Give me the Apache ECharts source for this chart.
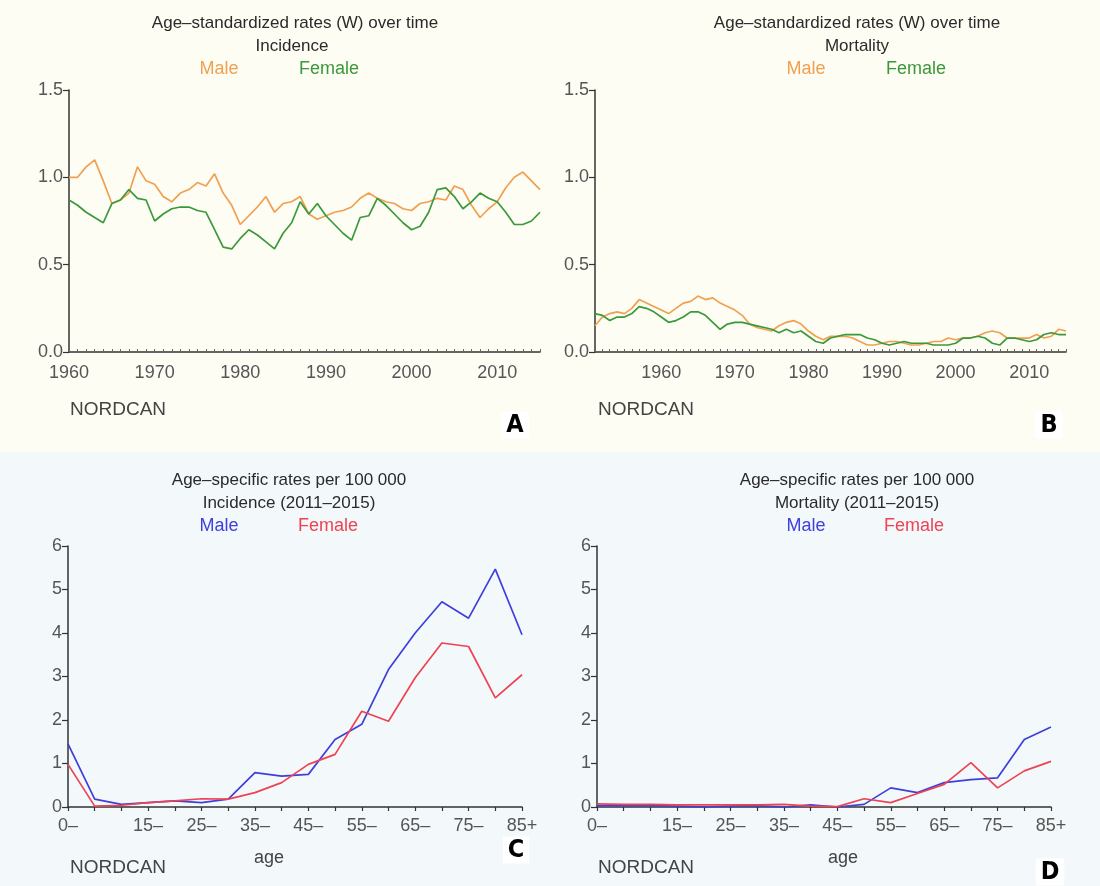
<!DOCTYPE html>
<html>
<head>
<meta charset="utf-8">
<script src="https://cdn.jsdelivr.net/npm/echarts@6/dist/echarts.min.js"></script>
<style>
  html, body { margin: 0; padding: 0; background: #fff; }
  #main { width: 1100px; height: 886px; }
</style>
</head>
<body>
<div id="main"></div>
<script>
// ---- Data ----
// Calendar years for the age-standardized trend panels
const yearsIncidence = [];
for (let y = 1960; y <= 2015; y++) yearsIncidence.push(String(y));
const yearsMortality = [];
for (let y = 1951; y <= 2015; y++) yearsMortality.push(String(y));

// Age-standardized incidence (W), 1960-2015
const incMaleASR = [
  1.00, 1.00, 1.06, 1.10, 0.98, 0.85, 0.87, 0.91, 1.06, 0.98,
  0.96, 0.89, 0.86, 0.91, 0.93, 0.97, 0.95, 1.02, 0.91, 0.84,
  0.73, 0.78, 0.83, 0.89, 0.80, 0.85, 0.86, 0.89, 0.79, 0.76,
  0.78, 0.80, 0.81, 0.83, 0.88, 0.91, 0.88, 0.86, 0.85, 0.82,
  0.81, 0.85, 0.86, 0.88, 0.87, 0.95, 0.93, 0.84, 0.77, 0.82,
  0.86, 0.94, 1.00, 1.03, 0.98, 0.93
];
const incFemaleASR = [
  0.87, 0.84, 0.80, 0.77, 0.74, 0.85, 0.87, 0.93, 0.88, 0.87,
  0.75, 0.79, 0.82, 0.83, 0.83, 0.81, 0.80, 0.70, 0.60, 0.59,
  0.65, 0.70, 0.67, 0.63, 0.59, 0.68, 0.74, 0.86, 0.79, 0.85,
  0.78, 0.73, 0.68, 0.64, 0.77, 0.78, 0.88, 0.84, 0.79, 0.74,
  0.70, 0.72, 0.80, 0.93, 0.94, 0.89, 0.82, 0.86, 0.91, 0.88,
  0.86, 0.80, 0.73, 0.73, 0.75, 0.80
];

// Age-standardized mortality (W), 1951-2015
const morMaleASR = [
  0.15, 0.20, 0.22, 0.23, 0.22, 0.25, 0.30, 0.28, 0.26,
  0.24, 0.22, 0.25, 0.28, 0.29, 0.32, 0.30, 0.31, 0.28, 0.26,
  0.24, 0.21, 0.16, 0.14, 0.13, 0.12, 0.15, 0.17, 0.18, 0.16,
  0.12, 0.09, 0.07, 0.09, 0.09, 0.09, 0.08, 0.06, 0.04, 0.04,
  0.05, 0.06, 0.06, 0.05, 0.04, 0.04, 0.05, 0.06, 0.06, 0.08,
  0.07, 0.08, 0.08, 0.09, 0.11, 0.12, 0.11, 0.08, 0.08, 0.08,
  0.08, 0.10, 0.08, 0.09, 0.13, 0.12
];
const morFemaleASR = [
  0.22, 0.21, 0.18, 0.20, 0.20, 0.22, 0.26, 0.25, 0.23,
  0.20, 0.17, 0.18, 0.20, 0.23, 0.23, 0.21, 0.17, 0.13, 0.16,
  0.17, 0.17, 0.16, 0.15, 0.14, 0.13, 0.11, 0.13, 0.11, 0.12,
  0.09, 0.06, 0.05, 0.08, 0.09, 0.10, 0.10, 0.10, 0.08, 0.07,
  0.05, 0.04, 0.05, 0.06, 0.05, 0.05, 0.05, 0.04, 0.04, 0.04,
  0.05, 0.08, 0.08, 0.09, 0.08, 0.05, 0.04, 0.08, 0.08, 0.07,
  0.06, 0.07, 0.10, 0.11, 0.10, 0.10
];

// Five-year age groups
const ageGroups = ['0–', '5–', '10–', '15–', '20–', '25–', '30–', '35–', '40–',
  '45–', '50–', '55–', '60–', '65–', '70–', '75–', '80–', '85+'];

// Age-specific rates per 100 000, 2011-2015
const incMaleAge = [1.45, 0.18, 0.06, 0.10, 0.14, 0.10, 0.18, 0.79, 0.71, 0.75,
  1.55, 1.90, 3.16, 4.00, 4.72, 4.34, 5.47, 3.96];
const incFemaleAge = [0.98, 0.02, 0.04, 0.10, 0.14, 0.19, 0.18, 0.33, 0.56, 0.98,
  1.21, 2.20, 1.97, 2.97, 3.77, 3.69, 2.51, 3.04];
const morMaleAge = [0.03, 0.03, 0.03, 0.02, 0.00, 0.02, 0.03, 0.00, 0.05, 0.00,
  0.06, 0.44, 0.33, 0.56, 0.63, 0.67, 1.55, 1.84];
const morFemaleAge = [0.07, 0.06, 0.06, 0.05, 0.05, 0.05, 0.05, 0.06, 0.02, 0.01,
  0.19, 0.10, 0.31, 0.52, 1.02, 0.44, 0.83, 1.05];

// ---- Styling ----
const FONT = '"Liberation Sans", Arial, Helvetica, sans-serif';
const C_ORANGE = '#f0a050';
const C_GREEN = '#3b983b';
const C_BLUE = '#3f3fdc';
const C_RED = '#ee4352';
const AXIS_COLOR = '#333';
const LABEL_COLOR = '#555';

function lineSeries(name, data, color, idx) {
  return {
    name, type: 'line', data, xAxisIndex: idx, yAxisIndex: idx,
    showSymbol: false, symbol: 'none', smooth: false,
    lineStyle: { color, width: 1.7 },
    emphasis: { disabled: true }
  };
}

function yearAxis(data, idx) {
  return {
    type: 'category', gridIndex: idx, data, boundaryGap: false,
    axisLine: { lineStyle: { color: AXIS_COLOR, width: 1.5 } },
    axisTick: { interval: 0, inside: true, length: 3, lineStyle: { color: '#666', width: 1 } },
    axisLabel: {
      interval: (i, v) => Number(v) % 10 === 0,
      color: LABEL_COLOR, fontSize: 18, fontFamily: FONT, margin: 12
    },
    splitLine: { show: false }
  };
}

function ageAxis(idx) {
  return {
    type: 'category', gridIndex: idx, data: ageGroups, boundaryGap: false,
    axisLine: { lineStyle: { color: AXIS_COLOR, width: 1.5 } },
    axisTick: { interval: 0, length: 4, lineStyle: { color: AXIS_COLOR, width: 1.2 } },
    axisLabel: {
      interval: (i) => i === 0 || (i >= 3 && i % 2 === 1),
      color: LABEL_COLOR, fontSize: 18, fontFamily: FONT, margin: 10
    },
    splitLine: { show: false }
  };
}

function rateAxis(idx, max, step, decimals) {
  return {
    type: 'value', gridIndex: idx, min: 0, max, interval: step,
    axisLine: { show: true, lineStyle: { color: AXIS_COLOR, width: 1.5 } },
    axisTick: { show: true, length: 6, lineStyle: { color: AXIS_COLOR, width: 1.2 } },
    axisLabel: {
      color: LABEL_COLOR, fontSize: 18, fontFamily: FONT, margin: 6,
      formatter: (v) => v.toFixed(decimals)
    },
    splitLine: { show: false }
  };
}

function txt(text, x, y, fill, opts) {
  opts = opts || {};
  return {
    type: 'text', x, y, silent: true, z: 10,
    style: Object.assign({
      text, fill,
      font: (opts.weight || 'normal') + ' ' + (opts.size || 18) + 'px ' + (opts.family || FONT),
      align: opts.align || 'center', verticalAlign: 'middle',
      textAlign: opts.align || 'center', textVerticalAlign: 'middle'
    }, opts.extra || {})
  };
}

const TITLE_COLOR = '#2a2a2a';
const NOTE_COLOR = '#444';
const LETTER_FONT = '"Liberation Sans Narrow", "DejaVu Sans Condensed", Arial, sans-serif';

function heading(text, x, y) {
  return txt(text, x, y, TITLE_COLOR, { size: 17 });
}

function panelLetter(letter, x, y) {
  return txt(letter, x, y, '#000', {
    weight: 'bold', size: 25, family: LETTER_FONT,
    extra: { backgroundColor: '#ffffff', padding: [1, 5, 1, 5] }
  });
}

const graphics = [
  // background bands
  { type: 'rect', z: -10, silent: true, shape: { x: 0, y: 0, width: 1100, height: 452 },
    style: { fill: '#fdfdf4' } },
  { type: 'rect', z: -10, silent: true, shape: { x: 0, y: 452, width: 1100, height: 434 },
    style: { fill: '#f3f8fb' } },

  // Panel A headings
  heading('Age–standardized rates (W) over time', 295, 23),
  heading('Incidence', 292, 46),
  txt('Male', 219, 69, C_ORANGE),
  txt('Female', 329, 69, C_GREEN),
  txt('NORDCAN', 70, 410, NOTE_COLOR, { size: 19, align: 'left' }),
  panelLetter('A', 515, 425),

  // Panel B headings
  heading('Age–standardized rates (W) over time', 857, 23),
  heading('Mortality', 857, 46),
  txt('Male', 806, 69, C_ORANGE),
  txt('Female', 916, 69, C_GREEN),
  txt('NORDCAN', 598, 410, NOTE_COLOR, { size: 19, align: 'left' }),
  panelLetter('B', 1049, 425),

  // Panel C headings
  heading('Age–specific rates per 100 000', 289, 480),
  heading('Incidence (2011–2015)', 289, 503),
  txt('Male', 219, 526, C_BLUE),
  txt('Female', 328, 526, C_RED),
  txt('age', 269, 858, NOTE_COLOR),
  txt('NORDCAN', 70, 868, NOTE_COLOR, { size: 19, align: 'left' }),
  panelLetter('C', 516, 850),

  // Panel D headings
  heading('Age–specific rates per 100 000', 857, 480),
  heading('Mortality (2011–2015)', 857, 503),
  txt('Male', 806, 526, C_BLUE),
  txt('Female', 914, 526, C_RED),
  txt('age', 843, 858, NOTE_COLOR),
  txt('NORDCAN', 598, 868, NOTE_COLOR, { size: 19, align: 'left' }),
  panelLetter('D', 1050, 872)
];

const chart = echarts.init(document.getElementById('main'), null, { renderer: 'canvas' });
chart.setOption({
  animation: false,
  backgroundColor: '#ffffff',
  textStyle: { fontFamily: FONT },
  grid: [
    { left: 69, top: 90, width: 471, height: 262 },
    { left: 595, top: 90, width: 471, height: 262 },
    { left: 68, top: 546, width: 454, height: 261 },
    { left: 597, top: 546, width: 454, height: 261 }
  ],
  xAxis: [
    yearAxis(yearsIncidence, 0),
    yearAxis(yearsMortality, 1),
    ageAxis(2),
    ageAxis(3)
  ],
  yAxis: [
    rateAxis(0, 1.5, 0.5, 1),
    rateAxis(1, 1.5, 0.5, 1),
    rateAxis(2, 6, 1, 0),
    rateAxis(3, 6, 1, 0)
  ],
  series: [
    lineSeries('Male', incMaleASR, C_ORANGE, 0),
    lineSeries('Female', incFemaleASR, C_GREEN, 0),
    lineSeries('Male', morMaleASR, C_ORANGE, 1),
    lineSeries('Female', morFemaleASR, C_GREEN, 1),
    lineSeries('Male', incMaleAge, C_BLUE, 2),
    lineSeries('Female', incFemaleAge, C_RED, 2),
    lineSeries('Male', morMaleAge, C_BLUE, 3),
    lineSeries('Female', morFemaleAge, C_RED, 3)
  ],
  graphic: graphics
});
</script>
</body>
</html>
